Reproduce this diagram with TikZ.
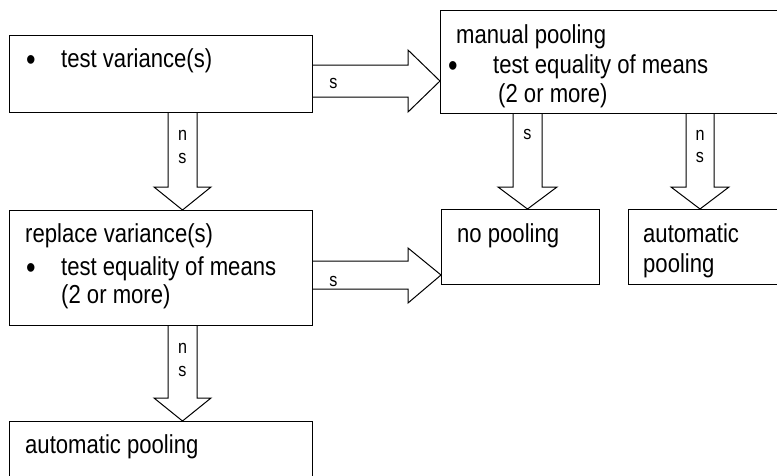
\documentclass[tikz,border=0pt]{standalone}
\usepackage{fontspec}
\setmainfont{Liberation Sans}[FakeStretch=0.85]
\usetikzlibrary{calc}
\newcommand{\bul}[1]{\makebox[#1][l]{\raisebox{-3pt}{\fontsize{32}{32}\selectfont\textbullet}}}
\tikzset{
    box/.style = {rectangle,draw,line width=1.2pt,anchor=north west,inner sep=0pt},
    txt/.style = {anchor=base west,inner sep=0pt,font=\fontsize{26}{30}\selectfont},
    lbl/.style = {anchor=base,inner sep=0pt,font=\fontsize{19}{22}\selectfont},
    blockarrow/.style = {draw,fill=white,line width=1pt,line join=miter}}
\begin{document}
\begin{tikzpicture}[x=1pt,y=-1pt]
    \useasboundingbox (0,0) rectangle (777,475);
    \clip (0,0) rectangle (777,475);
    % boxes
    \node[box,minimum width=303,minimum height=77] (A) at (9,35) {};
    \node[box,minimum width=360,minimum height=103] (B) at (440,10) {};
    \node[box,minimum width=303,minimum height=115] (C) at (9,210) {};
    \node[box,minimum width=158,minimum height=75] (D) at (441,209) {};
    \node[box,minimum width=170,minimum height=75] (E) at (628,209) {};
    \node[box,minimum width=303,minimum height=80] (F) at (9,421) {};
    % box texts
    \node[txt] (Atest) at ($(A.north west)+(17,32)$) {\bul{35pt}test variance(s)};
    \node[txt] (Bhead) at ($(B.north west)+(16,33)$) {manual pooling};
    \node[txt] (Btest) at ($(B.north west)+(8,63)$) {\bul{45pt}test equality of means};
    \node[txt] (Bmore) at ($(B.north west)+(58,92)$) {(2 or more)};
    \node[txt] (Chead) at ($(C.north west)+(16,32)$) {replace variance(s)};
    \node[txt] (Ctest) at ($(C.north west)+(17,65)$) {\bul{35pt}test equality of means};
    \node[txt] (Cmore) at ($(C.north west)+(52,93)$) {(2 or more)};
    \node[txt] (Dhead) at ($(D.north west)+(16,33)$) {no pooling};
    \node[txt] (Ehead) at ($(E.north west)+(15,33)$) {automatic};
    \node[txt] (Epool) at ($(E.north west)+(15,63)$) {pooling};
    \node[txt] (Fhead) at ($(F.north west)+(16,32)$) {automatic pooling};
    % s: A -> B
    \draw[blockarrow] (A.east |- 0,65) -- ($(B.west |- 0,65)+(-32,0)$) -- ++(0,-15) -- (B.west |- 0,81)
        -- ++(-32,31) -- ++(0,-15) -- (A.east |- 0,97);
    \node[lbl,anchor=base west] (sAB) at ($(A.east |- 0,88)+(16,0)$) {s};
    % s: C -> D
    \draw[blockarrow] (C.east |- 0,261) -- ($(D.west |- 0,261)+(-33,0)$) -- ++(0,-13) -- (D.west |- 0,275)
        -- ++(-33,28) -- ++(0,-14) -- (C.east |- 0,289);
    \node[lbl,anchor=base west] (sCD) at ($(C.east |- 0,286)+(16,0)$) {s};
    % ns: A -> C
    \draw[blockarrow] (A.south -| 168,0) -- ($(C.north -| 168,0)+(0,-23)$) -- ++(-14,0) -- (C.north -| 182.5,0)
        -- ++(28.5,-23) -- ++(-14,0) -- (A.south -| 197,0);
    \node[lbl] (nAC) at ($(A.south -| 182.5,0)+(0,27)$) {n};
    \node[lbl] (sAC) at ($(A.south -| 182.5,0)+(0,50)$) {s};
    % ns: C -> F
    \draw[blockarrow] (C.south -| 168,0) -- ($(F.north -| 168,0)+(0,-23)$) -- ++(-14,0) -- (F.north -| 182.5,0)
        -- ++(28.5,-23) -- ++(-14,0) -- (C.south -| 197,0);
    \node[lbl] (nCF) at ($(C.south -| 182.5,0)+(0,27)$) {n};
    \node[lbl] (sCF) at ($(C.south -| 182.5,0)+(0,50)$) {s};
    % s: B -> D
    \draw[blockarrow] (B.south -| 513,0) -- ($(D.north -| 513,0)+(0,-22)$) -- ++(-15,0) -- (D.north -| 527.5,0)
        -- ++(29.5,-22) -- ++(-15,0) -- (B.south -| 542,0);
    \node[lbl] (sBD) at ($(B.south -| 527.5,0)+(0,25)$) {s};
    % ns: B -> E
    \draw[blockarrow] (B.south -| 686,0) -- ($(E.north -| 686,0)+(0,-22)$) -- ++(-15,0) -- (E.north -| 700,0)
        -- ++(29,-22) -- ++(-15,0) -- (B.south -| 714,0);
    \node[lbl] (nBE) at ($(B.south -| 700,0)+(0,26)$) {n};
    \node[lbl] (sBE) at ($(B.south -| 700,0)+(0,48)$) {s};
\end{tikzpicture}
\end{document}
